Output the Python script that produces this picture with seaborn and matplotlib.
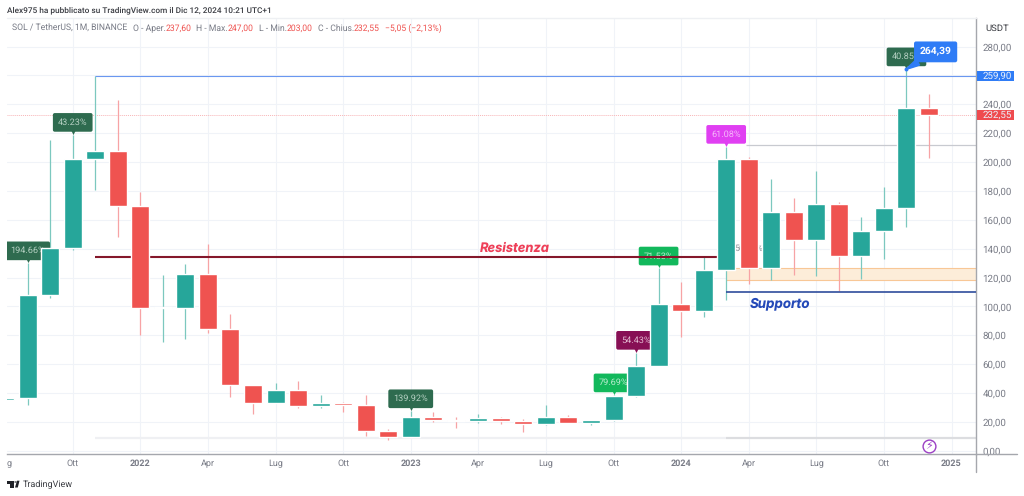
import matplotlib
matplotlib.use("Agg")
import matplotlib.pyplot as plt
from matplotlib.patches import Rectangle, Circle, Polygon
from matplotlib.transforms import blended_transform_factory
import numpy as np
import seaborn as sns

# =========================
# DATA (months counted from Jan 2022)
# =========================

months = list(range(-6, 36))
opens = [35, 36.3, 107.9, 140.5, 202, 207.7, 169.6, 99, 99, 122.4, 84.3, 45.3, 33.3, 41.8,
         31.2, 33, 32, 13.6, 9.3, 23.6, 21.3, 20.8, 22.4, 20.4, 18.5, 23.4, 19.4, 21, 38,
         59, 101.5, 96.6, 125.2, 202, 126.4, 165.2, 146, 171.2, 135, 152.2, 168.2, 237.6]
closes = [36.3, 107.9, 140.5, 202, 207.7, 169.6, 99, 99.5, 122.4, 84.3, 45.3, 33.3, 41.8, 31.2,
          33, 32, 13.6, 9.3, 23.6, 21.3, 20.5, 22.5, 20.4, 18.7, 23.4, 19.4, 21, 38, 59,
          101.5, 96.6, 125.2, 202, 126.4, 165.2, 146, 171.2, 135, 152.2, 168.2, 237.6, 232.55]
highs = [37, 130, 215, 219, 259.9, 243, 179.5, 121.5, 129.4, 143, 94.7, 45.3, 47.1, 48, 38.6,
         34, 38.6, 14.8, 27.5, 26.8, 23.4, 25.6, 23.4, 22, 31.7, 24.5, 21.5, 38.5, 68, 126.4,
         116.7, 134.7, 210.7, 203.7, 188.3, 175, 193.6, 172.4, 162, 183, 264.39, 247]
lows = [34, 31.9, 105.8, 139, 180.7, 148, 80.4, 75.6, 77.6, 81.5, 37, 25.4, 33, 29.6, 29.6, 26.8,
        10.4, 7.6, 9.3, 19.7, 15.7, 19.4, 18.7, 12.8, 18, 19.4, 17.6, 20.5, 37.5, 59, 79, 92.9,
        104.7, 115.7, 118.3, 122, 120.8, 110.4, 119.2, 132.8, 154.8, 203]

tick_months = [-3, 0, 3, 6, 9, 12, 15, 18, 21, 24, 27, 30, 33, 36]
tick_names = ["Ott", "2022", "Apr", "Lug", "Ott", "2023", "Apr", "Lug", "Ott", "2024",
              "Apr", "Lug", "Ott", "2025"]
price_ticks = [0, 20, 40, 60, 80, 100, 120, 140, 160, 180, 200, 220, 240, 260, 280]

label_texts = ["194.66%", "43.23%", "139.92%", "79.69%", "54.43%", "71.53%", "61.08%", "40.85%"]
label_months = [-5, -3, 12, 21, 22, 23, 26, 34]
label_tips = [130, 219, 27.5, 38.5, 68, 126.4, 210.7, 264.39]
label_colors = ["#2e6b4f", "#2e6b4f", "#2e6b4f", "#12b85c", "#870f55", "#12b85c", "#e03ff2", "#2e6b4f"]
label_inks = ["#b5d0c2", "#b5d0c2", "#b5d0c2", "#b8ecce", "#e2b8d0", "#b8ecce", "#f6b8fb", "#b5d0c2"]

GREEN = "#26a69a"
RED = "#ef5350"
GREEN_WICK = "#7cc8bf"
RED_WICK = "#f7a3a5"
GREY = "#787b86"
INK = "#3a3c42"

# =========================
# FIGURE
# =========================

sns.set_theme(style="whitegrid", rc={"grid.color": "#f0f3f8", "grid.linewidth": 0.8})
plt.rcParams["font.family"] = ["Roboto", "DejaVu Sans"]
plt.rcParams["text.hinting"] = "no_hinting"

W, H = 1024, 496
fig = plt.figure(figsize=(W / 100, H / 100), dpi=100, facecolor="white")
ax = fig.add_axes([7 / W, 1 - 454 / H, (976.3 - 7) / W, (454 - 18) / H])

opens = np.array(opens)
closes = np.array(closes)
up = closes >= opens

sns.barplot(x=np.array(months)[up], y=(closes - opens)[up], bottom=opens[up], native_scale=True,
            color=GREEN, saturation=1, width=0.8, errorbar=None, ax=ax, zorder=4)
sns.barplot(x=np.array(months)[~up], y=(closes - opens)[~up], bottom=opens[~up], native_scale=True,
            color=RED, saturation=1, width=0.8, errorbar=None, ax=ax, zorder=4)
ax.vlines(months, lows, highs, colors=[GREEN_WICK if u else RED_WICK for u in up], lw=0.9, zorder=2)

ax.set_xlim(-5.917, 37.1)
ax.set_ylim(-2.29, 299.8)
ax.set_axisbelow(True)
ax.grid(True, axis="both")
ax.set_xlabel("")
ax.set_ylabel("")

ax.yaxis.tick_right()
ax.set_yticks(price_ticks)
ax.set_yticklabels([f"{p},00" for p in price_ticks])
ax.set_xticks(tick_months)
ax.set_xticklabels(tick_names)
ax.tick_params(axis="y", length=0, pad=4.3, labelsize=7, labelcolor=GREY)
ax.tick_params(axis="x", length=0, pad=4, labelsize=6.5, labelcolor=GREY)
for lab in ax.get_xticklabels():
    if lab.get_text().startswith("20"):
        lab.set_fontweight("bold")

for side in ["top", "left"]:
    ax.spines[side].set_visible(False)
ax.spines["bottom"].set_color("#a5a7ad")
ax.spines["right"].set_color("#a5a7ad")
ax.spines["bottom"].set_linewidth(1)
ax.spines["right"].set_linewidth(1)
fig.add_artist(plt.Line2D([976.3 / W, 1017 / W], [1 - 454 / H] * 2, color="#a5a7ad", lw=1))
fig.add_artist(plt.Line2D([976.3 / W] * 2, [1 - 454 / H, 1 - 472 / H], color="#a5a7ad", lw=1))
fig.add_artist(plt.Line2D([7 / W, 976 / W], [1 - 18 / H] * 2, color="#eef0f3", lw=1))

# =========================
# DRAWINGS
# =========================

ax.hlines(259.9, -2, 37.1, color="#6a97f0", lw=0.8, zorder=3)
ax.hlines(232.55, -5.917, 37.1, color="#f8b5b7", lw=0.7, ls=(0, (1, 1)), zorder=1.5)
ax.hlines(134, -2, 25.7, color="#84172a", lw=1.5, zorder=3.5)
ax.hlines(110.3, 26, 37.1, color="#2f4d9c", lw=1.2, zorder=3)
ax.hlines(212, 26.9, 37.1, color="#c8cad0", lw=0.9, zorder=1.5)
ax.hlines(8.8, -2, 26, color="#eff0f3", lw=1.6, zorder=1.5)
ax.hlines(8.8, 26, 37.1, color="#dcdde0", lw=1.6, zorder=1.5)
ax.add_patch(Rectangle((26, 118.5), 11.1, 7.9, fc="#fdedd9", ec="none", zorder=1.8))
ax.hlines([118.5, 126.4], 26, 37.1, color="#f8c796", lw=0.8, zorder=1.9)

ax.text(16.6, 140.5, "Resistenza", color="#ee3f58", fontsize=9.3, fontweight="bold", style="italic",
        family="Inter", ha="center", va="center", zorder=6)
ax.text(28.4, 102.2, "Supporto", color="#2449b8", fontsize=9.6, fontweight="bold", style="italic",
        family="Inter", ha="center", va="center", zorder=6)
ax.text(27, 140.3, "50.05%", color="#8a8d94", fontsize=6.4, ha="center", va="center", zorder=3)

for txt, m, tip, col, ink in zip(label_texts, label_months, label_tips, label_colors, label_inks):
    ax.scatter([m], [tip + 2.8], marker="v", s=26, color=col, linewidths=0, zorder=3)
    ax.annotate(txt, xy=(m, tip), xytext=(0, 8.8), textcoords="offset points", ha="center", va="center",
                color=ink, fontsize=6.6, zorder=3, annotation_clip=False, clip_on=True,
                bbox=dict(boxstyle="round,pad=0.55,rounding_size=0.2", fc=col, ec="none"))

# last high label and price scale tags
ax.annotate("264,39", xy=(34, 264.39), xytext=(21, 12.4), textcoords="offset points", ha="center", va="center",
            color="white", fontsize=7.4, fontweight="bold", zorder=8,
            bbox=dict(boxstyle="round,pad=0.55,rounding_size=0.2", fc="#2f7cf6", ec="none"),
            arrowprops=dict(arrowstyle="wedge,tail_width=0.6,shrink_factor=0.6", color="#2f7cf6",
                            shrinkA=0, shrinkB=0))
ax.scatter([34], [264.39], s=8, color="#2f7cf6", linewidths=0, zorder=8)

scale = blended_transform_factory(ax.transAxes, ax.transData)
for price, name, col in [(259.9, "259,90", "#2f7cf6"), (232.55, "232,55", "#ef4b4f")]:
    ax.add_patch(Rectangle((1.0005, price - 3.5), 0.038, 7, transform=scale, fc=col, ec="none",
                           clip_on=False, zorder=8))
    ax.annotate(name, xy=(1, price), xycoords=scale, xytext=(4.3, 0), textcoords="offset points",
                ha="left", va="center", color="#eaf0fb", fontsize=7, annotation_clip=False, zorder=9)

# =========================
# HEADER / FOOTER TEXT
# =========================


def chain(x_px, y_px, parts, size):
    renderer = fig.canvas.get_renderer()
    for txt, col, gap in parts:
        t = fig.text(x_px / W, 1 - y_px / H, txt, color=col, fontsize=size, va="center", ha="left")
        x_px = t.get_window_extent(renderer).x1 + gap


fig.text(7 / W, 1 - 10.5 / H, "Alex975 ha pubblicato su TradingView.com il Dic 12, 2024 10:21 UTC+1",
         color=INK, fontsize=5.95, fontweight="medium", va="center", ha="left")
chain(12.3, 28.5, [("SOL / TetherUS, 1M, BINANCE", GREY, 5), ("O - Aper.", GREY, 0), ("237,60", RED, 5),
                   ("H - Max.", GREY, 0), ("247,00", RED, 5), ("L - Min.", GREY, 0), ("203,00", RED, 5),
                   ("C - Chius.", GREY, 0), ("232,55", RED, 5), ("−5,05 (−2,13%)", RED, 0)], 6.2)
fig.text(997 / W, 1 - 28.5 / H, "USDT", color=INK, fontsize=6.8, va="center", ha="center")
fig.text(9 / W, 1 - 464 / H, "g", color=GREY, fontsize=6.5, va="center", ha="center")

# TradingView mark
fig.add_artist(Rectangle((7 / W, 1 - 483.5 / H), 6.5 / W, 2.8 / H, fc="#1f2127", ec="none", transform=fig.transFigure))
fig.add_artist(Rectangle((10 / W, 1 - 487.5 / H), 3.5 / W, 6.8 / H, fc="#1f2127", ec="none", transform=fig.transFigure))
fig.add_artist(Circle((15.5 / W, 1 - 482 / H), 0.0012, fc="#1f2127", ec="none", transform=fig.transFigure))
fig.add_artist(Polygon([(15 / W, 1 - 487.5 / H), (17 / W, 1 - 480.7 / H), (19.5 / W, 1 - 480.7 / H), (17.8 / W, 1 - 487.5 / H)],
                       fc="#1f2127", ec="none", transform=fig.transFigure))
fig.text(22.3 / W, 1 - 485 / H, "TradingView", color=INK, fontsize=6.5, va="center", ha="left")

# flash icon
ax.scatter([35], [3.3], s=85, facecolor="white", edgecolor="#9b3fc4", linewidths=1, zorder=5)
ax.text(35, 3.3, "⚡", color="#9b3fc4", fontsize=8, family="DejaVu Sans", ha="center", va="center", zorder=6)

fig.savefig("out.png", dpi=100, facecolor="white")
